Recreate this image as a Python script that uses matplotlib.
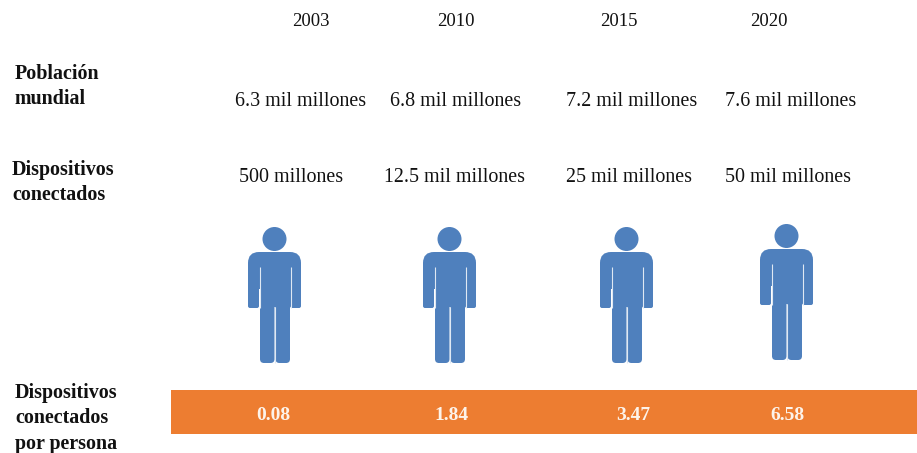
import matplotlib
matplotlib.use("Agg")
import matplotlib.pyplot as plt
from matplotlib.patches import Circle, FancyBboxPatch, Rectangle

plt.rcParams['font.family'] = ['Liberation Serif', 'DejaVu Serif']

years = ["2003", "2010", "2015", "2020"]
poblacion = ["6.3 mil millones", "6.8 mil millones", "7.2 mil millones", "7.6 mil millones"]
dispositivos = ["500 millones", "12.5 mil millones", "25 mil millones", "50 mil millones"]
por_persona = [0.08, 1.84, 3.47, 6.58]

BLUE = '#4f80bd'
ORANGE = '#ed7d31'

# horizontal centre of each text column and of each figure
year_x = [311, 456, 619, 769]
pob_x = [300, 455, 631, 790]
disp_x = [291, 455, 629, 788]
value_x = [273, 451, 633, 787]
person_x = [275, 450, 627, 787]
person_top = [227, 227, 227, 224]


def rounded(ax, x0, y0, x1, y1, r):
    ax.add_patch(FancyBboxPatch((x0 + r, y0 + r), x1 - x0 - 2 * r, y1 - y0 - 2 * r,
                                boxstyle=f"round,pad={r},rounding_size={r}",
                                fc=BLUE, ec='none'))


# simple standing figure built from a head, shoulders, arms and legs
def draw_person(ax, cx, top):
    ax.add_patch(Circle((cx - 0.5, top + 12), 12, fc=BLUE, ec='none'))
    rounded(ax, cx - 27, top + 25, cx + 26, top + 62, 11)
    rounded(ax, cx - 27, top + 35, cx - 16, top + 81, 2)
    rounded(ax, cx + 15, top + 35, cx + 26, top + 81, 2)
    ax.add_patch(Rectangle((cx - 15, top + 30), 30, 50, fc=BLUE, ec='none'))
    rounded(ax, cx - 15, top + 70, cx - 0.5, top + 136, 4)
    rounded(ax, cx + 0.5, top + 70, cx + 15, top + 136, 4)
    # thin light gaps between the arms and the body
    for gx in (cx - 15.5, cx + 15.5):
        ax.plot([gx, gx], [top + 40, top + 81], color='#dfe8f3', lw=0.8, solid_capstyle='butt')
    ax.plot([cx, cx], [top + 80, top + 136], color='#dfe8f3', lw=0.8, solid_capstyle='butt')


fig = plt.figure(figsize=(9.17, 4.53), dpi=100)
ax = fig.add_axes([0, 0, 1, 1])
ax.set_xlim(0, 917)
ax.set_ylim(453, 0)
ax.axis('off')

for x, t in zip(year_x, years):
    ax.text(x, 22, t, ha='center', va='center', fontsize=13.5, color='#111111')
for x, t in zip(pob_x, poblacion):
    ax.text(x + 1, 101, t, ha='center', va='center', fontsize=14.4, color='#111111')
for x, t in zip(disp_x, dispositivos):
    ax.text(x, 178, t, ha='center', va='center', fontsize=14.4, color='#111111')

for x, top in zip(person_x, person_top):
    draw_person(ax, x, top)

ax.add_patch(Rectangle((171, 390), 746, 44, fc=ORANGE, ec='none'))
for x, v in zip(value_x, por_persona):
    ax.text(x, 416, f"{v:.2f}", ha='center', va='center', fontsize=14,
            fontweight='bold', color='#fdf3ea')

row_labels = [(15, 74, "Población"), (15, 99, "mundial"),
              (12, 170, "Dispositivos"), (12, 195, "conectados"),
              (15, 393, "Dispositivos"), (15, 418, "conectados"), (15, 444, "por persona")]
for x, y, t in row_labels:
    ax.text(x, y, t, ha='left', va='center', fontsize=14.4, fontweight='bold', color='#111111')

fig.savefig("out.png", dpi=100)
